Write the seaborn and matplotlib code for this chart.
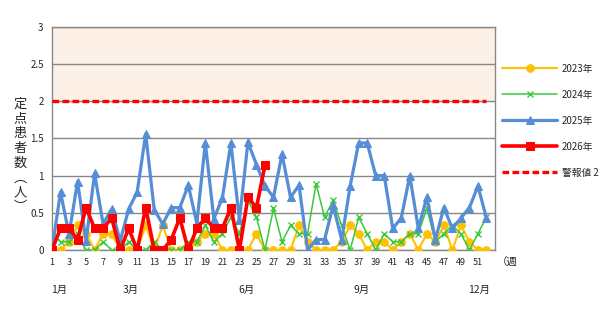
import numpy as np
import pandas as pd
import seaborn as sns
import matplotlib.pyplot as plt

weeks = list(range(1, 53))

y2023 = [0, 0, 0.11, 0.33, 0.22, 0, 0.22, 0.22, 0, 0, 0, 0.33, 0, 0.33, 0, 0, 0, 0.11, 0.22, 0.22,
         0, 0, 0, 0, 0.22, 0, 0, 0, 0, 0.33, 0.11, 0, 0, 0, 0.11, 0.33, 0.22, 0, 0.11, 0.11,
         0, 0.11, 0.22, 0, 0.22, 0.11, 0.33, 0, 0.33, 0.11, 0, 0]
y2024 = [0.22, 0.11, 0.11, 0.22, 0, 0, 0.11, 0, 0, 0.11, 0, 0, 0.11, 0, 0, 0, 0.11, 0.11, 0.33, 0.11,
         0.22, 0.44, 0.22, 0.67, 0.44, 0, 0.56, 0.11, 0.33, 0.22, 0.22, 0.89, 0.44, 0.67, 0.33, 0, 0.44, 0.22, 0, 0.22,
         0.11, 0.11, 0.22, 0.22, 0.56, 0.11, 0.22, 0.33, 0.22, 0, 0.22, 0.44]
y2025 = [0, 0.78, 0.21, 0.92, 0.12, 1.03, 0.35, 0.55, 0.12, 0.55, 0.78, 1.56, 0.54, 0.35, 0.57, 0.57, 0.87, 0.36, 1.44, 0.42,
         0.7, 1.44, 0.4, 1.45, 1.15, 0.86, 0.71, 1.29, 0.71, 0.87, 0, 0.14, 0.14, 0.6, 0.14, 0.86, 1.44, 1.44, 1.0, 1.0,
         0.29, 0.43, 1.0, 0.29, 0.71, 0.14, 0.57, 0.29, 0.43, 0.57, 0.86, 0.43]
y2026 = [0, 0.29, 0.29, 0.14, 0.57, 0.29, 0.29, 0.43, 0, 0.29, 0, 0.57, 0, 0, 0.14, 0.43, 0, 0.29, 0.43, 0.29,
         0.29, 0.57, 0, 0.71, 0.57, 1.14]
alert_level = 2
alert = [alert_level] * len(weeks)

month_labels = ["1月", "3月", "6月", "9月", "12月"]
month_weeks = [1.8, 10.3, 23.8, 37.4, 51.1]

sns.set_style("white")
plt.rcParams["font.family"] = ["Noto Sans CJK JP", "DejaVu Sans"]

fig = plt.figure(figsize=(6.06, 3.12), dpi=100)
ax = fig.add_axes([0.0858, 0.1987, 0.7310, 0.7148])

ax.axhspan(2, 3, color="#FDF0E6", zorder=0)

sns.lineplot(x=weeks, y=y2023, ax=ax, color="#FFC000", linewidth=1.5, marker="o",
             markersize=5.5, markeredgecolor="#FFC000", label="2023年", zorder=3)
sns.lineplot(x=weeks, y=y2024, ax=ax, color="#3CC83C", linewidth=1.1, marker="x",
             markersize=4, markeredgewidth=1.0, markeredgecolor="#3CC83C", label="2024年", zorder=4)
sns.lineplot(x=weeks, y=y2025, ax=ax, color="#558ED5", linewidth=2.3, marker="^",
             markersize=5.5, markeredgecolor="#558ED5", label="2025年", zorder=5)
sns.lineplot(x=weeks[:len(y2026)], y=y2026, ax=ax, color="#FF0000", linewidth=2.6, marker="s",
             markersize=5.5, markeredgecolor="#FF0000", label="2026年", zorder=6)
sns.lineplot(x=weeks, y=alert, ax=ax, color="#FF0000", linewidth=2.4, dashes=(2, 1),
             label="警報値 2", zorder=6)

ax.set_xlim(1, 53)
ax.set_ylim(0, 3)
ax.set_yticks(np.arange(0, 3.01, 0.5))
ax.set_yticklabels(["0", "0.5", "1", "1.5", "2", "2.5", "3"], fontsize=7)
ax.yaxis.grid(True, color="#888888", linewidth=1)
ax.set_axisbelow(True)
ax.set_xticks(weeks)
ax.set_xticklabels([str(w) if w % 2 == 1 else "" for w in weeks], fontsize=6.5)
ax.tick_params(axis="both", length=3, color="#888888", width=1, pad=3)
for s in ax.spines.values():
    s.set_color("#888888")
    s.set_linewidth(1)
ax.set_xlabel("")
ax.set_ylabel("")

tr = ax.get_xaxis_transform()
for lab, w in zip(month_labels, month_weeks):
    ax.text(w, -0.18, lab, transform=tr, ha="center", va="center", fontsize=7.5)
ax.text(53.2, -0.058, "（週", transform=tr, ha="left", va="center", fontsize=7.5)

fig.text(0.033, 0.50, "定\n点\n患\n者\n数\n︵\n人\n︶", ha="center", va="center",
         fontsize=9.5, linespacing=1.18)

handles, labels = ax.get_legend_handles_labels()
ax.get_legend().remove()
fig.legend(handles, labels, loc="upper left", bbox_to_anchor=(0.821, 0.812), frameon=False,
           fontsize=7, handlelength=5.6, handletextpad=0.5, labelspacing=1.65, borderpad=0)

fig.savefig("out.png", dpi=100)
